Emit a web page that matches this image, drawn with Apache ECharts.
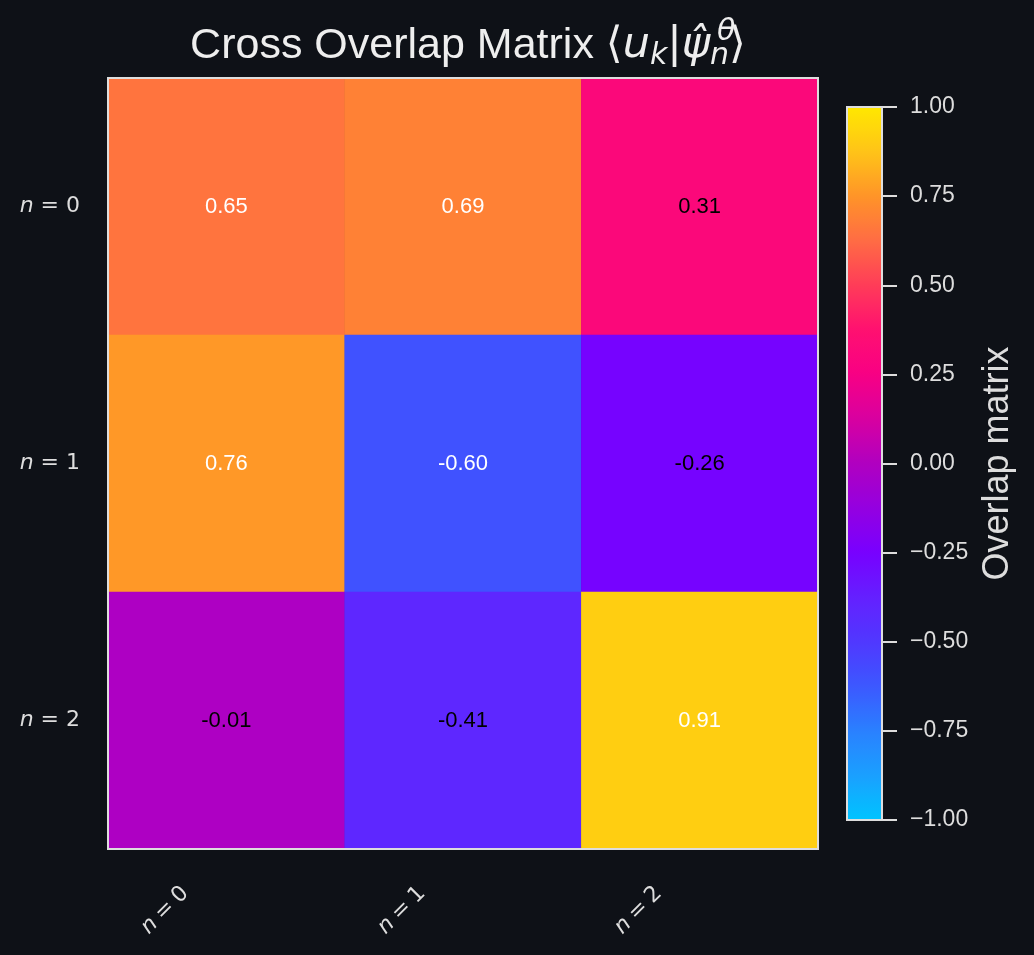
<!DOCTYPE html>
<html>
<head>
<meta charset="utf-8">
<title>Cross Overlap Matrix</title>
<script src="https://cdn.jsdelivr.net/npm/echarts@6/dist/echarts.min.js"></script>
<style>
  html, body { margin: 0; padding: 0; background: #0e1117; }
  #chartMain { width: 1034px; height: 955px; }
</style>
</head>
<body>
<div id="chartMain"></div>
<script>
var myChart;
var option;

// labels of the two axes (n = 0 .. 2)
var colLabels = ['0', '1', '2'];
var rowLabels = ['0', '1', '2'];
// overlap values, one array per row (top row first)
var row0 = [0.65, 0.69, 0.31];
var row1 = [0.76, -0.60, -0.26];
var row2 = [-0.01, -0.41, 0.91];
var rows = [row0, row1, row2];
// colorbar ticks
var cbarMin = -1;
var cbarMax = 1;
var cbarStep = 0.25;
// colormap stops, evenly spaced from -1 to 1
var cmapColors = ['#00c4ff', '#1aa0ff', '#2a80ff', '#3c58ff', '#5038ff', '#6420ff',
                  '#7800ff', '#9400e0', '#b000c0', '#d800a0', '#f80084', '#ff1070',
                  '#ff3c58', '#ff6c44', '#ff9428', '#ffc418', '#ffe800'];

var mathFont = '"DejaVu Sans"';
var textFont = '"Liberation Sans", Arial, sans-serif';

function buildData() {
	var out = [];
	for (var r = 0; r < rows.length; r++) {
		for (var c = 0; c < rows[r].length; c++) {
			out.push([c, r, rows[r][c]]);
		}
	}
	return out;
}

function nLabel(v) {
	return '{i|n}{t| = ' + v + '}';
}
// rotated labels look tighter round the "="
function nLabelTight(v) {
	return '{i|n}{t|\u2005=\u2005' + v + '}';
}

var nRich = {
	i: { fontFamily: mathFont, fontStyle: 'italic', fontSize: 22, color: '#dddddd' },
	t: { fontFamily: mathFont, fontSize: 22, color: '#dddddd' }
};

myChart = echarts.init(document.getElementById('chartMain'));

option = {
	backgroundColor: '#0e1117',
	animation: false,
	title: [{
		text: 'Cross Overlap Matrix {m|⟨}{mi|u}{sb|k}{m||}{mi|ψ̂}{sb|n}{m|⟩}',
		left: 463,
		top: 16,
		textAlign: 'center',
		textStyle: {
			fontFamily: textFont,
			fontSize: 43,
			fontWeight: 'normal',
			color: '#eeeeee',
			rich: {
				m: { fontFamily: mathFont, fontSize: 43, color: '#eeeeee' },
				mi: { fontFamily: mathFont, fontStyle: 'italic', fontSize: 43, color: '#eeeeee' },
				sb: { fontFamily: mathFont, fontStyle: 'italic', fontSize: 30, color: '#eeeeee', padding: [20, 0, 0, 0] }
			}
		}
	}, {
		// superscript theta above the subscript n
		text: 'θ',
		left: 712,
		top: 12,
		textStyle: { fontFamily: mathFont, fontStyle: 'italic', fontSize: 30, fontWeight: 'normal', color: '#eeeeee' }
	}],
	grid: [
		{ left: 108, top: 78, width: 710, height: 771, show: true, z: 10,
		  borderColor: '#dddddd', borderWidth: 2, backgroundColor: 'transparent' },
		{ left: 847, top: 107, width: 35, height: 713, show: true, z: 10,
		  borderColor: '#dddddd', borderWidth: 2, backgroundColor: 'transparent' }
	],
	xAxis: [
		{
			type: 'category', gridIndex: 0, data: colLabels,
			axisLine: { show: false }, axisTick: { show: false }, splitLine: { show: false },
			axisLabel: {
				rotate: 45, margin: 0, formatter: nLabelTight,
				rich: {
					i: { fontFamily: mathFont, fontStyle: 'italic', fontSize: 22, color: '#dddddd' },
					t: { fontFamily: mathFont, fontSize: 22, color: '#dddddd', padding: [0, 58, 0, 0] }
				}
			}
		},
		{ type: 'value', gridIndex: 1, show: false, min: 0, max: 1 }
	],
	yAxis: [
		{
			type: 'category', gridIndex: 0, data: rowLabels, inverse: true,
			axisLine: { show: false }, axisTick: { show: false }, splitLine: { show: false },
			axisLabel: { margin: 28, formatter: nLabel, rich: nRich }
		},
		{
			type: 'value', gridIndex: 1, position: 'right', z: 12,
			min: cbarMin, max: cbarMax, interval: cbarStep,
			axisLine: { show: false, onZero: false },
			splitLine: { show: false },
			axisTick: { show: true, inside: false, length: 15, lineStyle: { color: '#dddddd', width: 2 } },
			axisLabel: {
				margin: 28, color: '#dddddd', fontFamily: textFont, fontSize: 23,
				formatter: function (v) { return v.toFixed(2).replace('-', '\u2212'); }
			},
			name: 'Overlap matrix',
			nameLocation: 'middle',
			nameRotate: 90,
			nameGap: 98,
			nameTextStyle: { color: '#dddddd', fontFamily: textFont, fontSize: 36 }
		}
	],
	visualMap: {
		type: 'continuous',
		seriesIndex: 0,
		min: cbarMin,
		max: cbarMax,
		calculable: false,
		hoverLink: false,
		orient: 'vertical',
		left: 832,
		top: 92,
		z: 1,
		itemWidth: 35,
		itemHeight: 713,
		text: null,
		showLabel: false,
		inRange: { color: cmapColors }
	},
	series: [{
		type: 'heatmap',
		xAxisIndex: 0,
		yAxisIndex: 0,
		data: buildData(),
		label: {
			show: true,
			formatter: function (p) {
				var v = p.value[2];
				var key = Math.abs(v) < 0.5 ? 'b' : 'w';
				return '{' + key + '|' + v.toFixed(2) + '}';
			},
			rich: {
				w: { color: '#ffffff', fontFamily: textFont, fontSize: 22 },
				b: { color: '#000000', fontFamily: textFont, fontSize: 22 }
			}
		},
		itemStyle: { borderWidth: 0 },
		emphasis: { disabled: true }
	}]
};

myChart.setOption(option);
</script>
</body>
</html>
